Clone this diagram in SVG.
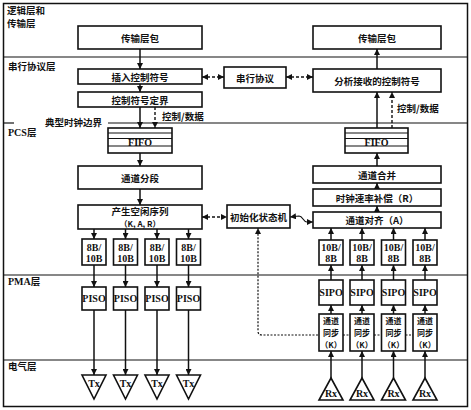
<svg xmlns="http://www.w3.org/2000/svg" width="471" height="410" viewBox="0 0 471 410">
<defs>
<marker id="a" markerUnits="userSpaceOnUse" markerWidth="6" markerHeight="6" refX="6" refY="3" orient="auto-start-reverse"><path d="M0,0 L6,3 L0,6 z" fill="#111"/></marker>
</defs>
<style>
.box{fill:#fff;stroke:#111;stroke-width:1.6}
.ln{stroke:#111;stroke-width:1.2;fill:none}
.ar{stroke:#111;stroke-width:1.5;fill:none;marker-end:url(#a)}
.da{stroke:#111;stroke-width:1.4;fill:none;stroke-dasharray:3,2}
.t{font-family:"Noto Sans CJK SC","Liberation Serif",sans-serif;font-size:9.5px;font-weight:bold;fill:#111;text-anchor:middle;dominant-baseline:central}
.s{font-family:"Noto Sans CJK SC","Liberation Serif",sans-serif;font-size:8px;font-weight:bold;fill:#111;text-anchor:middle;dominant-baseline:central}
.lt{font-family:"Liberation Serif","Noto Sans CJK SC",serif;font-size:10px;font-weight:bold;fill:#111;text-anchor:middle;dominant-baseline:central}
.lbl{font-family:"Noto Sans CJK SC",sans-serif;font-size:9.5px;font-weight:bold;fill:#111}
.lbls{font-family:"Liberation Serif","Noto Sans CJK SC",serif;font-size:10px;font-weight:bold;fill:#111}
</style>
<rect width="471" height="410" fill="#fff"/>
<g id="frame">
<rect x="3.5" y="3.5" width="464" height="403" fill="none" stroke="#111" stroke-width="1.5"/>
<line class="ln" x1="3.5" y1="57" x2="467.5" y2="57"/>
<line class="ln" x1="3.5" y1="123" x2="14" y2="123"/>
<line class="ln" x1="108" y1="123" x2="467.5" y2="123"/>
<line class="ln" x1="3.5" y1="275" x2="467.5" y2="275"/>
<line class="ln" x1="3.5" y1="360" x2="467.5" y2="360"/>
<text class="lbl" x="7" y="14" font-size="9">逻辑层和</text>
<text class="lbl" x="7" y="27" font-size="9">传输层</text>
<text class="lbl" x="8" y="70">串行协议层</text>
<text class="lbl" x="45" y="126">典型时钟边界</text>
<text class="lbls" x="8" y="136">PCS<tspan font-family="Noto Sans CJK SC" font-size="9.5">层</tspan></text>
<text class="lbls" x="8" y="285">PMA<tspan font-family="Noto Sans CJK SC" font-size="9.5">层</tspan></text>
<text class="lbl" x="8" y="370">电气层</text>
</g>
<g id="connectors">
<line class="ar" x1="140" y1="49" x2="140" y2="69"/>
<line class="ar" x1="140" y1="84" x2="140" y2="92"/>
<line class="ar" x1="140" y1="107" x2="140" y2="128"/>
<line class="da" x1="155" y1="107" x2="155" y2="128" marker-end="url(#a)"/>
<line class="ar" x1="140" y1="153" x2="140" y2="166"/>
<line class="ar" x1="140" y1="189" x2="140" y2="205"/>
<line class="ar" x1="94" y1="229" x2="94" y2="239"/>
<line class="ar" x1="125.5" y1="229" x2="125.5" y2="239"/>
<line class="ar" x1="157" y1="229" x2="157" y2="239"/>
<line class="ar" x1="188.5" y1="229" x2="188.5" y2="239"/>
<line class="ar" x1="94" y1="265" x2="94" y2="287"/>
<line class="ar" x1="125.5" y1="265" x2="125.5" y2="287"/>
<line class="ar" x1="157" y1="265" x2="157" y2="287"/>
<line class="ar" x1="188.5" y1="265" x2="188.5" y2="287"/>
<line class="ar" x1="94" y1="310" x2="94" y2="375"/>
<line class="ar" x1="125.5" y1="310" x2="125.5" y2="375"/>
<line class="ar" x1="157" y1="310" x2="157" y2="375"/>
<line class="ar" x1="188.5" y1="310" x2="188.5" y2="375"/>
<line class="ar" x1="377" y1="69" x2="377" y2="49"/>
<line class="ar" x1="377" y1="128" x2="377" y2="92"/>
<line class="da" x1="392" y1="128" x2="392" y2="92" marker-end="url(#a)"/>
<line class="ar" x1="377" y1="166" x2="377" y2="153"/>
<line class="ar" x1="377" y1="189" x2="377" y2="183"/>
<line class="ar" x1="377" y1="212" x2="377" y2="206"/>
<line class="ar" x1="331" y1="240" x2="331" y2="228"/>
<line class="ar" x1="362" y1="240" x2="362" y2="228"/>
<line class="ar" x1="393.5" y1="240" x2="393.5" y2="228"/>
<line class="ar" x1="425" y1="240" x2="425" y2="228"/>
<line class="ar" x1="331" y1="280" x2="331" y2="265"/>
<line class="ar" x1="362" y1="280" x2="362" y2="265"/>
<line class="ar" x1="393.5" y1="280" x2="393.5" y2="265"/>
<line class="ar" x1="425" y1="280" x2="425" y2="265"/>
<line class="ar" x1="331" y1="314" x2="331" y2="305"/>
<line class="ar" x1="362" y1="314" x2="362" y2="305"/>
<line class="ar" x1="393.5" y1="314" x2="393.5" y2="305"/>
<line class="ar" x1="425" y1="314" x2="425" y2="305"/>
<line class="ar" x1="331" y1="378" x2="331" y2="351"/>
<line class="ar" x1="362" y1="378" x2="362" y2="351"/>
<line class="ar" x1="393.5" y1="378" x2="393.5" y2="351"/>
<line class="ar" x1="425" y1="378" x2="425" y2="351"/>
<line class="da" x1="202" y1="77" x2="224" y2="77" marker-start="url(#a)" marker-end="url(#a)"/>
<line class="da" x1="286" y1="77" x2="313" y2="77" marker-start="url(#a)" marker-end="url(#a)"/>
<line class="da" x1="202" y1="217" x2="227" y2="217" marker-start="url(#a)" marker-end="url(#a)"/>
<path d="M290,217 L299,216 C303,216 303,222 307,222 L313,222" stroke="#111" stroke-width="1.2" fill="none" marker-start="url(#a)" marker-end="url(#a)"/>
<path d="M318,335 L262,335 Q258,335 258,331 L258,228" stroke="#111" stroke-width="1.2" fill="none" stroke-dasharray="2,1.5" marker-end="url(#a)"/>
<line x1="343" y1="335" x2="350" y2="335" stroke="#111" stroke-width="1.2" stroke-dasharray="2,1.5"/>
<line x1="374" y1="335" x2="381.5" y2="335" stroke="#111" stroke-width="1.2" stroke-dasharray="2,1.5"/>
<line x1="405.5" y1="335" x2="413" y2="335" stroke="#111" stroke-width="1.2" stroke-dasharray="2,1.5"/>
<text class="lbl" x="162" y="120">控制/数据</text>
<text class="lbl" x="397" y="112">控制/数据</text>
</g>
<g id="tx-packet-l"><rect class="box" x="78" y="26" width="124" height="23"/><text class="t" x="140" y="37.5">传输层包</text></g>
<g id="insert-ctrl"><rect class="box" x="78" y="69" width="124" height="15"/><text class="t" x="140" y="76.5">插入控制符号</text></g>
<g id="ctrl-delim"><rect class="box" x="78" y="92" width="124" height="15"/><text class="t" x="140" y="99.5">控制符号定界</text></g>
<g id="fifo-l"><rect class="box" x="108" y="128" width="64" height="25"/><line class="ln" x1="108" y1="133" x2="172" y2="133"/><line class="ln" x1="108" y1="138.5" x2="172" y2="138.5"/><line class="ln" x1="108" y1="146" x2="172" y2="146"/><text class="lt" x="140" y="142.3" font-size="9">FIFO</text></g>
<g id="lane-split"><rect class="box" x="78" y="166" width="124" height="23"/><text class="t" x="140" y="177.5">通道分段</text></g>
<g id="idle-gen"><rect class="box" x="78" y="205" width="124" height="24"/><text class="t" x="140" y="210.8" font-size="9">产生空闲序列</text><text class="s" x="140" y="223.6">（K, A, R）</text></g>
<g id="enc1"><rect class="box" x="82" y="239" width="24" height="26"/><text class="lt" x="94" y="247">8B/</text><text class="lt" x="94" y="258">10B</text></g>
<g id="enc2"><rect class="box" x="113.5" y="239" width="24" height="26"/><text class="lt" x="125.5" y="247">8B/</text><text class="lt" x="125.5" y="258">10B</text></g>
<g id="enc3"><rect class="box" x="145" y="239" width="24" height="26"/><text class="lt" x="157" y="247">8B/</text><text class="lt" x="157" y="258">10B</text></g>
<g id="enc4"><rect class="box" x="176.5" y="239" width="24" height="26"/><text class="lt" x="188.5" y="247">8B/</text><text class="lt" x="188.5" y="258">10B</text></g>
<g id="piso1"><rect class="box" x="82" y="287" width="24" height="23"/><text class="lt" x="94" y="298.5" font-size="9.5">PISO</text></g>
<g id="piso2"><rect class="box" x="113.5" y="287" width="24" height="23"/><text class="lt" x="125.5" y="298.5" font-size="9.5">PISO</text></g>
<g id="piso3"><rect class="box" x="145" y="287" width="24" height="23"/><text class="lt" x="157" y="298.5" font-size="9.5">PISO</text></g>
<g id="piso4"><rect class="box" x="176.5" y="287" width="24" height="23"/><text class="lt" x="188.5" y="298.5" font-size="9.5">PISO</text></g>
<g id="tx1"><path class="box" d="M82,375 L106,375 L94,399 z"/><text class="lt" x="94" y="383" font-size="9">Tx</text></g>
<g id="tx2"><path class="box" d="M113.5,375 L137.5,375 L125.5,399 z"/><text class="lt" x="125.5" y="383" font-size="9">Tx</text></g>
<g id="tx3"><path class="box" d="M145,375 L169,375 L157,399 z"/><text class="lt" x="157" y="383" font-size="9">Tx</text></g>
<g id="tx4"><path class="box" d="M176.5,375 L200.5,375 L188.5,399 z"/><text class="lt" x="188.5" y="383" font-size="9">Tx</text></g>
<g id="serial-proto"><rect class="box" x="224" y="67" width="62" height="21"/><text class="t" x="255" y="77.5">串行协议</text></g>
<g id="init-fsm"><rect class="box" x="227" y="205" width="63" height="23"/><text class="t" x="258.5" y="216.5">初始化状态机</text></g>
<g id="tx-packet-r"><rect class="box" x="313" y="26" width="128" height="23"/><text class="t" x="377" y="37.5">传输层包</text></g>
<g id="parse-ctrl"><rect class="box" x="313" y="69" width="128" height="23"/><text class="t" x="377" y="80.5">分析接收的控制符号</text></g>
<g id="fifo-r"><rect class="box" x="345" y="128" width="63" height="25"/><line class="ln" x1="345" y1="133" x2="408" y2="133"/><line class="ln" x1="345" y1="138.5" x2="408" y2="138.5"/><line class="ln" x1="345" y1="146" x2="408" y2="146"/><text class="lt" x="376.5" y="142.3" font-size="9">FIFO</text></g>
<g id="lane-merge"><rect class="box" x="313" y="166" width="128" height="17"/><text class="t" x="377" y="174.5">通道合并</text></g>
<g id="clk-comp"><rect class="box" x="313" y="189" width="128" height="17"/><text class="t" x="377" y="197.5">时钟速率补偿（R）</text></g>
<g id="lane-align"><rect class="box" x="313" y="212" width="128" height="16"/><text class="t" x="377" y="220">通道对齐（A）</text></g>
<g id="dec1"><rect class="box" x="319" y="240" width="24" height="25"/><text class="lt" x="331" y="247.5">10B/</text><text class="lt" x="331" y="258.5">8B</text></g>
<g id="dec2"><rect class="box" x="350" y="240" width="24" height="25"/><text class="lt" x="362" y="247.5">10B/</text><text class="lt" x="362" y="258.5">8B</text></g>
<g id="dec3"><rect class="box" x="381.5" y="240" width="24" height="25"/><text class="lt" x="393.5" y="247.5">10B/</text><text class="lt" x="393.5" y="258.5">8B</text></g>
<g id="dec4"><rect class="box" x="413" y="240" width="24" height="25"/><text class="lt" x="425" y="247.5">10B/</text><text class="lt" x="425" y="258.5">8B</text></g>
<g id="sipo1"><rect class="box" x="319" y="280" width="24" height="25"/><text class="lt" x="331" y="292.5" font-size="9.5">SIPO</text></g>
<g id="sipo2"><rect class="box" x="350" y="280" width="24" height="25"/><text class="lt" x="362" y="292.5" font-size="9.5">SIPO</text></g>
<g id="sipo3"><rect class="box" x="381.5" y="280" width="24" height="25"/><text class="lt" x="393.5" y="292.5" font-size="9.5">SIPO</text></g>
<g id="sipo4"><rect class="box" x="413" y="280" width="24" height="25"/><text class="lt" x="425" y="292.5" font-size="9.5">SIPO</text></g>
<g id="sync1"><rect class="box" x="319" y="314" width="24" height="37"/><text class="s" x="331" y="320.5">通道</text><text class="s" x="331" y="332.5">同步</text><text class="s" x="331" y="344.5">（K）</text></g>
<g id="sync2"><rect class="box" x="350" y="314" width="24" height="37"/><text class="s" x="362" y="320.5">通道</text><text class="s" x="362" y="332.5">同步</text><text class="s" x="362" y="344.5">（K）</text></g>
<g id="sync3"><rect class="box" x="381.5" y="314" width="24" height="37"/><text class="s" x="393.5" y="320.5">通道</text><text class="s" x="393.5" y="332.5">同步</text><text class="s" x="393.5" y="344.5">（K）</text></g>
<g id="sync4"><rect class="box" x="413" y="314" width="24" height="37"/><text class="s" x="425" y="320.5">通道</text><text class="s" x="425" y="332.5">同步</text><text class="s" x="425" y="344.5">（K）</text></g>
<g id="rx1"><path class="box" d="M331,378 L343,400 L319,400 z"/><text class="lt" x="331" y="393" font-size="9">Rx</text></g>
<g id="rx2"><path class="box" d="M362,378 L374,400 L350,400 z"/><text class="lt" x="362" y="393" font-size="9">Rx</text></g>
<g id="rx3"><path class="box" d="M393.5,378 L405.5,400 L381.5,400 z"/><text class="lt" x="393.5" y="393" font-size="9">Rx</text></g>
<g id="rx4"><path class="box" d="M425,378 L437,400 L413,400 z"/><text class="lt" x="425" y="393" font-size="9">Rx</text></g>
</svg>
